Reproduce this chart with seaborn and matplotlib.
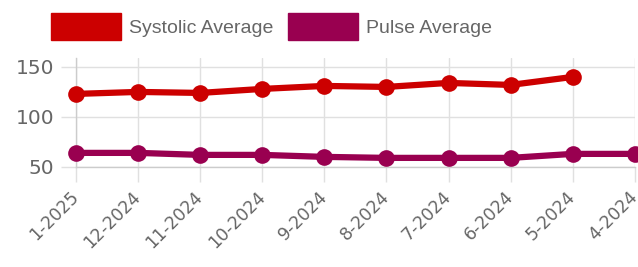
import numpy as np
import pandas as pd
import matplotlib.pyplot as plt
import seaborn as sns
from matplotlib.patches import Patch

# ── DATA ──────────────────────────────────────────────────────
months = ["1-2025", "12-2024", "11-2024", "10-2024", "9-2024",
          "8-2024", "7-2024", "6-2024", "5-2024", "4-2024"]
systolic = [123, 125, 124, 128, 131, 130, 134, 132, 140, np.nan]
pulse = [64, 64, 62, 62, 60, 59, 59, 59, 63, 63]

red = "#cc0000"
purple = "#990050"
grey_txt = "#666666"
grid_col = "#e0e0e0"

df = pd.DataFrame({"month": months, "Systolic Average": systolic,
                   "Pulse Average": pulse})

sns.set_theme(style="white")
plt.rcParams["font.family"] = ["DejaVu Sans"]

fig = plt.figure(figsize=(6.38, 2.67), dpi=100)
ax = fig.add_axes([0.119, 0.375, 0.876, 0.408])

for col, color in [("Systolic Average", red), ("Pulse Average", purple)]:
    sub = df.dropna(subset=[col])
    sns.lineplot(data=sub, x=np.arange(len(sub)), y=col, ax=ax,
                 color=color, lw=4.5, marker="o", markersize=12,
                 markeredgewidth=0, clip_on=False, zorder=3)

ax.set_xlim(0, len(months) - 1)
ax.set_ylim(50, 159)
ax.set_xticks(range(len(months)))
ax.set_xticklabels(months, rotation=45, ha="right", va="center",
                   rotation_mode="anchor")
ax.set_yticks([50, 100, 150])
ax.set_xlabel("")
ax.set_ylabel("")

# tick marks act as grid extensions past the axes (px -> pt: *0.72)
ax.grid(True, color=grid_col, lw=1)
ax.tick_params(axis="both", bottom=True, left=True, colors=grid_col,
               labelcolor=grey_txt, length=10.8, width=1)
ax.tick_params(axis="x", pad=9, labelsize=12.5)
ax.tick_params(axis="y", pad=5, labelsize=14.5)
for s in ["top", "right"]:
    ax.spines[s].set_visible(False)
for s in ["left", "bottom"]:
    ax.spines[s].set_color("#cccccc")
    ax.spines[s].set_linewidth(1)

handles = [Patch(facecolor=red, edgecolor=red, label="Systolic Average"),
           Patch(facecolor=purple, edgecolor=purple, label="Pulse Average")]
fig.legend(handles=handles, loc="upper center", bbox_to_anchor=(0.4255, 1.015),
           ncol=2, frameon=False, prop={"family": "Liberation Sans", "size": 14},
           labelcolor=grey_txt, handlelength=3.6, handleheight=1.7,
           handletextpad=0.4, columnspacing=0.75)

plt.savefig("out.png", dpi=100)
